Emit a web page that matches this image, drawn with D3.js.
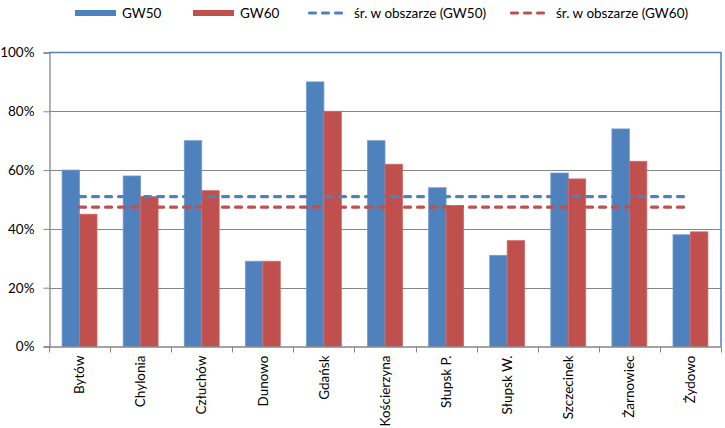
<!DOCTYPE html>
<html><head><meta charset="utf-8">
<script src="https://cdn.jsdelivr.net/npm/d3@7"></script>
<style>
body{margin:0;background:#fff;}
text{font-family:Lato,"Liberation Sans",sans-serif;}
</style></head>
<body><svg id="c" width="725" height="428"></svg>
<script>
const categories = ["Bytów","Chylonia","Człuchów","Dunowo","Gdańsk","Kościerzyna","Słupsk P.","Słupsk W.","Szczecinek","Żarnowiec","Żydowo"];
const gw50 = [0.60,0.58,0.70,0.29,0.90,0.70,0.54,0.31,0.59,0.74,0.38];
const gw60 = [0.45,0.51,0.53,0.29,0.80,0.62,0.48,0.36,0.57,0.63,0.39];
const avgGW50 = [0.51,0.51,0.51,0.51,0.51,0.51,0.51,0.51,0.51,0.51,0.51];
const avgGW60 = [0.474,0.474,0.474,0.474,0.474,0.474,0.474,0.474,0.474,0.474,0.474];
const seriesNames = ["GW50","GW60"];
const lineNames = ["śr. w obszarze (GW50)","śr. w obszarze (GW60)"];
const yTicks = [0,0.2,0.4,0.6,0.8,1.0];

const blue = "#4F81BD", red = "#C0504D", grid = "#868686";
const svg = d3.select("#c");
const L = 49, R = 721, T = 52.5, B = 346.5;

const x = d3.scaleBand().domain(categories).range([L, R]).padding(0);
const xs = d3.scaleBand().domain(seriesNames).range([0, x.bandwidth()]).paddingInner(0).paddingOuter(0.75);
const y = d3.scaleLinear().domain([0,1]).range([B, T]);

// gridlines
svg.append("g").selectAll("line").data(yTicks.filter(d=>d>0 && d<1)).join("line")
  .attr("x1", L).attr("x2", R).attr("y1", d=>Math.round(y(d))+0.5).attr("y2", d=>Math.round(y(d))+0.5)
  .attr("stroke", grid).attr("stroke-width",1);

// plot border (top/right)
svg.append("path").attr("d", `M${L},${T}H${R}V${B}`).attr("fill","none").attr("stroke", blue).attr("stroke-width",1.5);

// bars
const data = categories.map((c,i)=>({c, vals:[gw50[i], gw60[i]]}));
const g = svg.append("g").selectAll("g").data(data).join("g").attr("transform", d=>`translate(${x(d.c)},0)`);
g.selectAll("rect").data(d=>d.vals.map((v,j)=>({v, s:seriesNames[j]}))).join("rect")
  .attr("x", d=>xs(d.s)).attr("width", xs.bandwidth())
  .attr("y", d=>y(d.v)).attr("height", d=>B - y(d.v))
  .attr("fill", d=>d.s==="GW50"?blue:red)
  .attr("stroke", d=>d.s==="GW50"?"#6f9ad0":"#d06a67").attr("stroke-width",0.8);

// average lines
const line = d3.line().x((d,i)=>x(categories[i]) + x.bandwidth()/2).y(d=>y(d));
[[avgGW50, blue],[avgGW60, red]].forEach(([arr,col])=>{
  svg.append("path").attr("d", line(arr)).attr("fill","none").attr("stroke", col)
    .attr("stroke-width",3.2).attr("stroke-dasharray","6,7").attr("stroke-linecap","round");
});

// y axis
const ya = svg.append("g").attr("transform",`translate(${L+0.5},0)`)
  .call(d3.axisLeft(y).tickValues(yTicks).tickFormat(d3.format(".0%")).tickSize(6).tickPadding(9));
ya.select(".domain").attr("stroke", grid).attr("stroke-width",1.3);
ya.selectAll(".tick line").attr("stroke", grid);
ya.selectAll("text").attr("font-size",13.5).attr("fill","#000").attr("font-family","Lato,sans-serif");

// x axis
const xa = svg.append("g").attr("transform",`translate(0,${B})`);
xa.append("line").attr("x1",L).attr("x2",R).attr("y1",0.5).attr("y2",0.5).attr("stroke",grid).attr("stroke-width",1.3);
xa.selectAll("line.t").data(d3.range(categories.length+1)).join("line").attr("class","t")
  .attr("x1", i=>Math.round(L + i*x.step())+0.5).attr("x2", i=>Math.round(L + i*x.step())+0.5)
  .attr("y1",0).attr("y2",6).attr("stroke",grid);
xa.selectAll("text").data(categories).join("text")
  .attr("transform", d=>`translate(${x(d)+x.bandwidth()/2},9) rotate(-90)`)
  .attr("text-anchor","end").attr("dy","0.35em").attr("font-size",13.5).attr("fill","#000").text(d=>d);

// legend
const leg = svg.append("g");
const legItems = [
  {type:"rect", col:blue, name:seriesNames[0], x0:75},
  {type:"rect", col:red, name:seriesNames[1], x0:193},
  {type:"line", col:blue, name:lineNames[0], x0:308},
  {type:"line", col:red, name:lineNames[1], x0:510}
];
legItems.forEach(it=>{
  if(it.type==="rect"){
    leg.append("rect").attr("x",it.x0).attr("y",10).attr("width",41).attr("height",6).attr("fill",it.col);
    leg.append("text").attr("x",it.x0+47).attr("y",13).attr("dy","0.35em").attr("font-size",13.5).attr("fill","#000").text(it.name);
  } else {
    leg.append("line").attr("x1",it.x0+1.5).attr("x2",it.x0+34).attr("y1",13).attr("y2",13)
      .attr("stroke",it.col).attr("stroke-width",3.2).attr("stroke-dasharray","6,7").attr("stroke-linecap","round");
    leg.append("text").attr("x",it.x0+46).attr("y",13).attr("dy","0.35em").attr("font-size",13.5).attr("fill","#000").text(it.name);
  }
});
</script></body></html>
